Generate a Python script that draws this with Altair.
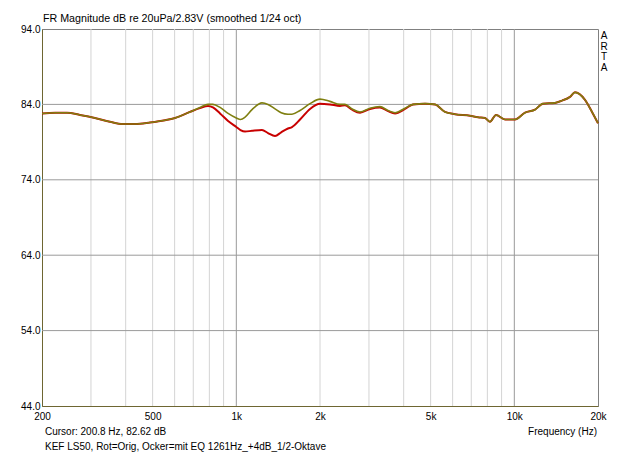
import altair as alt
import pandas as pd

# ---- data ----
freq = [200, 223, 246, 274, 310, 351, 391, 432, 489, 554,
        602, 681, 740, 791, 824, 874, 934, 1000, 1035, 1075,
        1139, 1237, 1300, 1378, 1450, 1534, 1586, 1695, 1841, 2000,
        2172, 2360, 2460, 2608, 2786, 3026, 3286, 3512, 3724, 4044,
        4320, 4774, 5186, 5632, 6118, 6928, 7402, 7846, 8176, 8592,
        9258, 10054, 10926, 11868, 12682, 14004, 14844, 15860, 16530, 17960,
        19030, 20000]

red_db = [82.8, 82.9, 82.9, 82.6, 82.2, 81.7, 81.4, 81.4, 81.6, 81.9,
          82.2, 83.0, 83.5, 83.8, 83.6, 82.8, 81.8, 81.0, 80.6, 80.4,
          80.5, 80.6, 80.2, 79.8, 80.3, 80.8, 81.0, 82.0, 83.4, 84.1,
          84.0, 83.8, 83.9, 83.3, 82.9, 83.4, 83.6, 83.1, 82.8, 83.4,
          84.0, 84.1, 84.0, 83.0, 82.7, 82.5, 82.3, 82.2, 81.7, 82.6,
          82.0, 82.0, 82.9, 83.3, 84.1, 84.2, 84.5, 85.0, 85.6, 84.6,
          83.0, 81.5]

olive_db = [82.8, 82.9, 82.9, 82.6, 82.2, 81.7, 81.4, 81.4, 81.6, 81.9,
            82.2, 83.0, 83.6, 84.0, 84.0, 83.6, 82.8, 82.2, 82.0, 82.3,
            83.3, 84.2, 84.0, 83.4, 82.9, 82.7, 82.7, 83.2, 84.1, 84.7,
            84.4, 84.0, 84.0, 83.4, 83.0, 83.5, 83.7, 83.2, 82.9, 83.5,
            84.0, 84.1, 84.0, 83.0, 82.7, 82.5, 82.3, 82.2, 81.7, 82.6,
            82.0, 82.0, 82.9, 83.3, 84.1, 84.2, 84.5, 85.0, 85.6, 84.6,
            83.0, 81.5]

x_ticks = [200, 500, 1000, 2000, 5000, 10000, 20000]
y_ticks = [44, 54, 64, 74, 84, 94]
grid_minor = [300, 400, 500, 600, 700, 800, 900,
              2000, 3000, 4000, 5000, 6000, 7000, 8000, 9000]
grid_major = [1000, 10000]
grid_h = [54, 64, 74, 84]

title_text = "FR Magnitude dB re 20uPa/2.83V (smoothed 1/24 oct)"
cursor_text = "Cursor: 200.8 Hz, 82.62 dB"
xlabel_text = "Frequency (Hz)"
note_text = "KEF LS50, Rot=Orig, Ocker=mit EQ 1261Hz_+4dB_1/2-Oktave"
arta_text = "A\nR\nT\nA"

FONT = "Liberation Sans"
FS = 10
W, H = 556, 377

df = pd.DataFrame({"f": freq, "red": red_db, "olive": olive_db})

xscale = alt.Scale(type="log", domain=[200, 20000], nice=False)
yscale = alt.Scale(domain=[44, 94], nice=False, zero=False)

xaxis = alt.Axis(values=x_ticks, labelExpr="datum.value >= 1000 ? (datum.value/1000) + 'k' : datum.value",
                 ticks=False, grid=False, domainColor="#6e6632", title=None,
                 labelFont=FONT, labelFontSize=FS, labelColor="#000000", labelPadding=5,
                 labelFlush=False, labelOverlap=False)
yaxis = alt.Axis(values=y_ticks, format=".1f", ticks=False, grid=False,
                 domainColor="#6e6632", title=None, labelFont=FONT, labelFontSize=FS,
                 labelColor="#000000", labelPadding=2, labelFlush=False, labelOverlap=False)

minor = alt.Chart(pd.DataFrame({"g": grid_minor})).mark_rule(color="#d4d4d4", strokeWidth=1).encode(
    x=alt.X("g:Q", scale=xscale, axis=xaxis))
major = alt.Chart(pd.DataFrame({"g": grid_major})).mark_rule(color="#9a9a9a", strokeWidth=1).encode(
    x=alt.X("g:Q", scale=xscale))
hgrid = alt.Chart(pd.DataFrame({"h": grid_h})).mark_rule(color="#9a9a9a", strokeWidth=1).encode(
    y=alt.Y("h:Q", scale=yscale, axis=yaxis))

red_line = alt.Chart(df).mark_line(color="#c80000", strokeWidth=2, interpolate="monotone").encode(
    x=alt.X("f:Q", scale=xscale), y=alt.Y("red:Q", scale=yscale))
olive_line = alt.Chart(df).mark_line(color="#7f7f10", strokeWidth=1.6, interpolate="monotone").encode(
    x=alt.X("f:Q", scale=xscale), y=alt.Y("olive:Q", scale=yscale))

one = alt.Data(values=[{}])

def label(txt, x, y, align="left", baseline="middle", size=FS, **kw):
    return alt.Chart(one).mark_text(text=txt, align=align, baseline=baseline, font=FONT,
                                    fontSize=size, color="#000000", **kw).encode(
        x=alt.value(x), y=alt.value(y))

title = label(title_text, 1, -10, size=10.7)
cursor = label(cursor_text, 3, 403)
xlabel = label(xlabel_text, 555, 403, align="right")
note = label(note_text, 3, 418)
arta = label(arta_text, 562, 2, align="center", baseline="top", lineBreak="\n", lineHeight=10.5)

chart = alt.layer(minor, major, hgrid, red_line, olive_line, title, cursor, xlabel, note, arta).properties(
    width=W, height=H,
    padding={"left": 42, "top": 29, "right": 42, "bottom": 49},
    autosize=alt.AutoSizeParams(type="none"),
    background="#ffffff",
).configure_view(stroke="#808080", strokeWidth=1)

chart.save("out.html", embed_options={"renderer": "svg", "actions": False})
